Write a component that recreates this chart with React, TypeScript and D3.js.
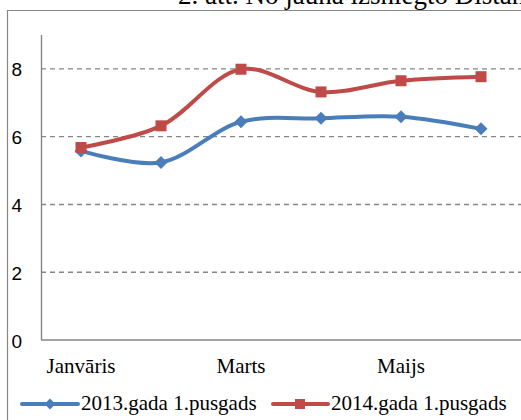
import React from "react";
import * as d3 from "d3";

// months on the x axis (only every second label is printed)
const months = ["Janvāris", "Februāris", "Marts", "Aprīlis", "Maijs", "Jūnijs"];
const series2013 = [5.58, 5.24, 6.44, 6.54, 6.59, 6.23];
const series2014 = [5.68, 6.32, 7.99, 7.32, 7.65, 7.77];
const yTicks = [0, 2, 4, 6, 8];
const seriesNames = ["2013.gada 1.pusgads", "2014.gada 1.pusgads"];
const title = "2. att. No jauna izsniegto Distanču līgumu skaits";

const W = 521;
const H = 420;
const blue = "#4A7EBB";
const red = "#BE4B48";
const grey = "#868686";
const serif = "'Liberation Serif', 'Times New Roman', serif";
const sans = "'Liberation Sans', Arial, sans-serif";

const App = () => {
  const x = d3.scalePoint<string>().domain(months).range([41, 521]).padding(0.5);
  const y = d3.scaleLinear().domain([0, 9]).range([340, 35]);

  const line = d3
    .line<number>()
    .x((_, i) => x(months[i]) as number)
    .y((d) => y(d))
    .curve(d3.curveCatmullRom.alpha(0.5));

  const diamond = (cx: number, cy: number, r: number) =>
    `M${cx},${cy - r}L${cx + r},${cy}L${cx},${cy + r}L${cx - r},${cy}Z`;

  return (
    <svg
      width={W}
      height={H}
      style={{ position: "absolute", left: 0, top: 0, background: "#fff" }}
    >
      {/* title, cut off by the page */}
      <text x={178} y={4} fontFamily={serif} fontSize={27} fill="#000">
        {title}
      </text>

      {/* chart frame */}
      <line x1={7} x2={W} y1={10.5} y2={10.5} stroke={grey} strokeWidth={1.2} />
      <line x1={7.5} x2={7.5} y1={10} y2={H} stroke={grey} strokeWidth={1.2} />

      {/* gridlines */}
      {yTicks
        .filter((t) => t > 0)
        .map((t) => (
          <line
            key={t}
            x1={41}
            x2={W}
            y1={y(t)}
            y2={y(t)}
            stroke={grey}
            strokeWidth={1.4}
            strokeDasharray="5,4"
          />
        ))}

      {/* axes */}
      <line x1={41.5} x2={41.5} y1={y(9)} y2={y(0)} stroke={grey} strokeWidth={1.4} />
      <line x1={41} x2={W} y1={y(0)} y2={y(0)} stroke={grey} strokeWidth={1.4} />

      {/* y tick labels */}
      {yTicks.map((t) => (
        <text
          key={t}
          x={22}
          y={y(t) + 1}
          textAnchor="end"
          dominantBaseline="central"
          fontFamily={sans}
          fontSize={19}
          fill="#000"
        >
          {t}
        </text>
      ))}

      {/* x tick labels */}
      {months.map((m, i) =>
        i % 2 === 0 ? (
          <text
            key={m}
            x={x(m)}
            y={373}
            textAnchor="middle"
            fontFamily={serif}
            fontSize={21}
            fill="#000"
          >
            {m}
          </text>
        ) : null
      )}

      {/* 2013 line */}
      <path d={line(series2013) || ""} fill="none" stroke={blue} strokeWidth={4} strokeLinejoin="round" />
      {series2013.map((v, i) => (
        <path key={i} d={diamond(x(months[i]) as number, y(v), 6.5)} fill={blue} />
      ))}

      {/* 2014 line */}
      <path d={line(series2014) || ""} fill="none" stroke={red} strokeWidth={4} strokeLinejoin="round" />
      {series2014.map((v, i) => (
        <rect
          key={i}
          x={(x(months[i]) as number) - 5.5}
          y={y(v) - 5.5}
          width={11}
          height={11}
          fill={red}
        />
      ))}

      {/* legend */}
      <g>
        <line x1={22} x2={78} y1={404} y2={404} stroke={blue} strokeWidth={4} strokeLinecap="round" />
        <path d={diamond(50, 404, 5.5)} fill={blue} />
        <text x={81} y={409.5} fontFamily={serif} fontSize={21} fill="#000">
          {seriesNames[0]}
        </text>
        <line x1={273} x2={328} y1={404} y2={404} stroke={red} strokeWidth={4} strokeLinecap="round" />
        <rect x={295} y={399} width={10} height={10} fill={red} />
        <text x={331} y={409.5} fontFamily={serif} fontSize={21} fill="#000">
          {seriesNames[1]}
        </text>
      </g>
    </svg>
  );
};

export default App;
